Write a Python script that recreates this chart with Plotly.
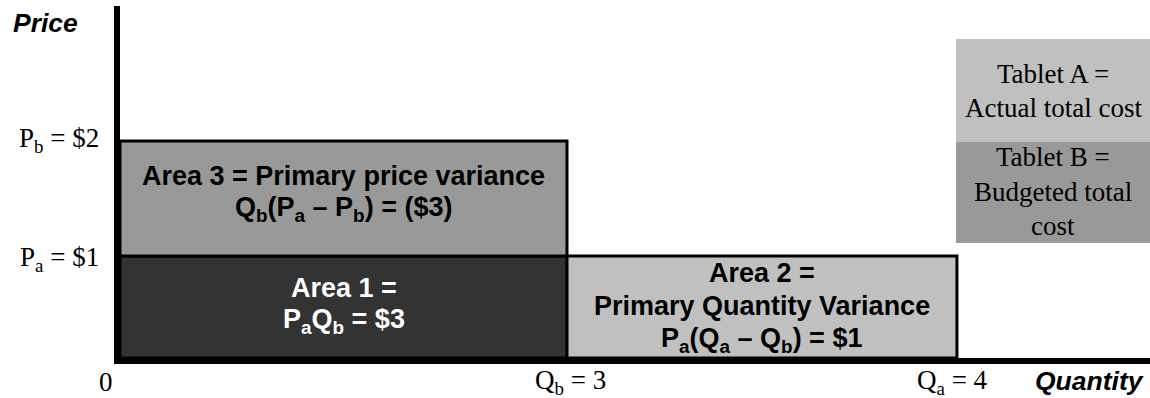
import plotly.graph_objects as go

# ---- data (values read from the schematic) ----
quantities = [0, 3, 4]                      # 0, Q_b, Q_a
quantity_labels = ["0", "Q<sub>b</sub> = 3", "Q<sub>a</sub> = 4"]
prices = [1, 2]                             # P_a, P_b
price_labels = ["P<sub>a</sub> = $1", "P<sub>b</sub> = $2"]

area_names = ["Area 1", "Area 2", "Area 3"]
area_q = [(0, 3), (3, 4), (0, 3)]           # quantity span of each area
area_p = [(0, 1), (0, 1), (1, 2)]           # price span of each area
area_values = ["$3", "$1", "($3)"]
area_lines = [
    ["Area 1 =", "P<sub>a</sub>Q<sub>b</sub> = $3"],
    ["Area 2 =", "Primary Quantity Variance",
     "P<sub>a</sub>(Q<sub>a</sub> – Q<sub>b</sub>) = $1"],
    ["Area 3 = Primary price variance",
     "Q<sub>b</sub>(P<sub>a</sub> – P<sub>b</sub>) = ($3)"],
]
area_colors = ["#333333", "#c0c0c0", "#999999"]
area_font_colors = ["white", "black", "black"]

legend_lines = [["Tablet A =", "Actual total cost"],
                ["Tablet B =", "Budgeted total", "cost"]]
legend_colors = ["#c0c0c0", "#999999"]

# ---- schematic (not-to-scale) axis positions ----
Q_POS = {0: 0.0, 3: 3.0, 4: 5.617}
P_POS = {0: 0.0, 1: 1.0, 2: 2.127}

# layout helpers (pixel offsets of text lines from the centre of each box)
AREA_LINE_SHIFT = [[19, -14], [34, 1, -33], [23, -10]]
LEGEND_BOX = [(0.906, 0.6136), (0.6136, 0.3267)]
LEGEND_LINE_SHIFT = [[17, -17], [36, 1, -33]]

SANS = "Liberation Sans"
SERIF = "Liberation Serif"
SANS_SIZE = 27
SERIF_SIZE = 27

fig = go.Figure()

shapes = []
annotations = []
for i in range(3):
    q0, q1 = area_q[i]
    p0, p1 = area_p[i]
    shapes.append(dict(type="rect", xref="x", yref="y",
                       x0=Q_POS[q0], x1=Q_POS[q1], y0=P_POS[p0], y1=P_POS[p1],
                       fillcolor=area_colors[i], line=dict(color="black", width=3),
                       layer="below"))
    for line, ys in zip(area_lines[i], AREA_LINE_SHIFT[i]):
        annotations.append(dict(xref="x", yref="y",
                                x=(Q_POS[q0] + Q_POS[q1]) / 2,
                                y=(P_POS[p0] + P_POS[p1]) / 2, yshift=ys,
                                text=line, showarrow=False, align="center",
                                xanchor="center", yanchor="middle",
                                font=dict(family=SANS, size=SANS_SIZE, weight="bold",
                                          color=area_font_colors[i])))

# legend boxes (paper coordinates)
for i in range(2):
    top, bot = LEGEND_BOX[i]
    shapes.append(dict(type="rect", xref="paper", yref="paper",
                       x0=0.8117, x1=1.0, y0=bot, y1=top,
                       fillcolor=legend_colors[i], line=dict(width=0), layer="below"))
    for line, ys in zip(legend_lines[i], LEGEND_LINE_SHIFT[i]):
        annotations.append(dict(xref="paper", yref="paper", x=(0.8117 + 1.0) / 2,
                                y=(top + bot) / 2, yshift=ys,
                                text=line, showarrow=False, align="center",
                                xanchor="center", yanchor="middle",
                                font=dict(family=SERIF, size=SERIF_SIZE, color="black")))

# price labels
p_shift = [-3, 1]
for p, lab, ys in zip(prices, price_labels, p_shift):
    annotations.append(dict(xref="x", yref="y", x=0, y=P_POS[p], text=lab,
                            showarrow=False, xanchor="right", yanchor="middle",
                            xshift=-19, yshift=ys,
                            font=dict(family=SERIF, size=SERIF_SIZE, color="black")))

# quantity labels
q_shift = [-14, 3, -4]
for q, lab, xs in zip(quantities, quantity_labels, q_shift):
    annotations.append(dict(xref="x", yref="y", x=Q_POS[q], y=0, text=lab,
                            showarrow=False, xanchor="center", yanchor="middle",
                            xshift=xs, yshift=-24,
                            font=dict(family=SERIF, size=SERIF_SIZE, color="black")))

# axis titles
annotations.append(dict(xref="x", yref="paper", x=0, y=1, text="Price", showarrow=False,
                        xanchor="center", yanchor="middle", xshift=-75, yshift=-17,
                        font=dict(family=SANS, size=26.5, weight="bold", style="italic",
                                  color="black")))
annotations.append(dict(xref="paper", yref="y", x=1, y=0, text="Quantity", showarrow=False,
                        xanchor="right", yanchor="middle", xshift=-4, yshift=-23,
                        font=dict(family=SANS, size=26.5, weight="bold", style="italic",
                                  color="black")))

fig.update_layout(
    width=1150, height=398,
    margin=dict(l=120, r=0, t=6, b=40),
    paper_bgcolor="white", plot_bgcolor="white",
    showlegend=False,
    shapes=shapes, annotations=annotations,
    xaxis=dict(range=[0, 1030 / 149], showgrid=False, zeroline=False,
               showticklabels=False, ticks="", showline=True, linecolor="black",
               linewidth=6, fixedrange=True),
    yaxis=dict(range=[0, 352 / 102], showgrid=False, zeroline=False,
               showticklabels=False, ticks="", showline=True, linecolor="black",
               linewidth=6, fixedrange=True),
)

fig.write_html("out.html", config={"displayModeBar": False},
               post_script="document.body.style.margin='0';"
                           "document.body.style.padding='0';"
                           "document.body.style.overflow='hidden';")
